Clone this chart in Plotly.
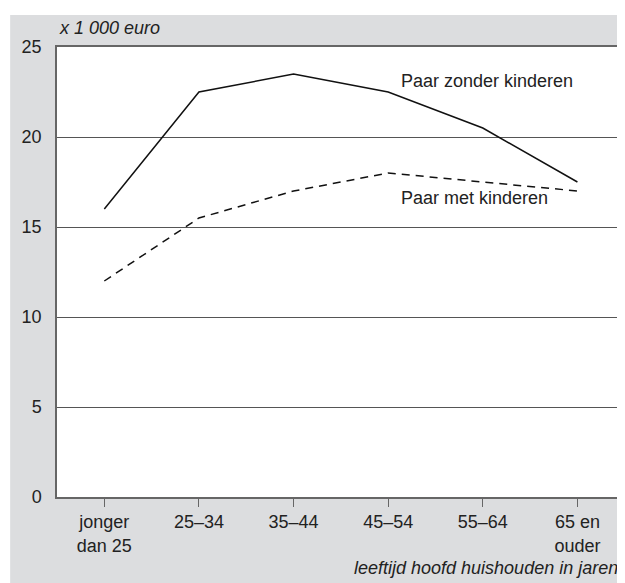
import plotly.graph_objects as go

categories = ["jonger<br>dan 25", "25–34", "35–44", "45–54", "55–64", "65 en<br>ouder"]
zonder_kinderen = [16, 22.5, 23.5, 22.5, 20.5, 17.5]
met_kinderen = [12, 15.5, 17, 18, 17.5, 17]
y_ticks = [0, 5, 10, 15, 20, 25]

x_idx = list(range(len(categories)))
FONT = "Liberation Sans, Arial, sans-serif"
GRAY = "#dcdddf"

fig = go.Figure()
fig.add_trace(go.Scatter(x=x_idx, y=zonder_kinderen, mode="lines",
                         line=dict(color="#111", width=1.5), showlegend=False))
fig.add_trace(go.Scatter(x=x_idx, y=met_kinderen, mode="lines",
                         line=dict(color="#111", width=1.5, dash="8px,6px"), showlegend=False))

# page body has an 8px margin; size the figure so it ends at the window edge
OFF = 8
W, H = 625 - OFF, 583 - OFF
l, r, t, b = 57 - OFF, 3, 47 - OFF, 86
pw, ph = W - l - r, H - t - b

fig.update_layout(
    width=W, height=H,
    margin=dict(l=l, r=r, t=t, b=b),
    paper_bgcolor=GRAY, plot_bgcolor="white",
    font=dict(family=FONT, size=18, color="#222"),
    xaxis=dict(range=[-0.5, 5.45], tickmode="array", tickvals=x_idx, ticktext=categories,
               showgrid=False, zeroline=False, showline=True, linecolor="#666", linewidth=1.5,
               mirror=True, ticks="outside", ticklen=8, tickcolor="#666", tickwidth=1,
               fixedrange=True),
    yaxis=dict(range=[0, 25], tickmode="array", tickvals=y_ticks,
               showgrid=True, gridcolor="#555", gridwidth=1.3, zeroline=False,
               showline=True, linecolor="#666", linewidth=1.5, mirror=True,
               ticks="", ticklabelstandoff=10),
    shapes=[
        dict(type="rect", xref="paper", yref="paper", layer="below",
             x0=-l / pw - 0.01, x1=1.05, y0=1 + (t - (15 - OFF)) / ph, y1=1 + t / ph + 0.01,
             fillcolor="white", line=dict(width=0)),
        dict(type="rect", xref="paper", yref="paper", layer="below",
             x0=-l / pw - 0.01, x1=-(l - (10 - OFF)) / pw, y0=-b / ph - 0.01, y1=1 + t / ph + 0.01,
             fillcolor="white", line=dict(width=0)),
    ],
    annotations=[
        dict(text="<i>x 1 000 euro</i>", xref="paper", yref="paper", x=0, y=1 + 7 / ph,
             xanchor="left", yanchor="bottom", showarrow=False, font=dict(size=18)),
        dict(text="<i>leeftijd hoofd huishouden in jaren</i>", xref="paper", yref="paper",
             x=1, y=-71 / ph, xanchor="right", yanchor="middle", showarrow=False,
             font=dict(size=18)),
        dict(text="Paar zonder kinderen", x=3.11, y=23.1, xanchor="left", yanchor="middle",
             showarrow=False, font=dict(size=18)),
        dict(text="Paar met kinderen", x=3.11, y=16.6, xanchor="left", yanchor="middle",
             showarrow=False, font=dict(size=18)),
    ],
)

fig.write_html("out.html")
